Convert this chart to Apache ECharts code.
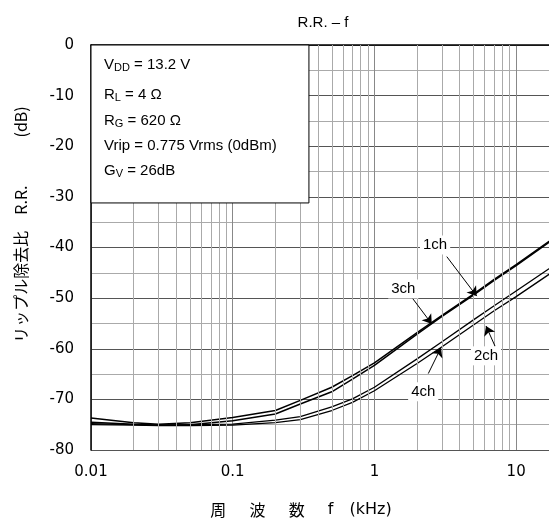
<!DOCTYPE html>
<html><head><meta charset="utf-8">
<script src="https://cdn.jsdelivr.net/npm/echarts@6/dist/echarts.min.js"></script>
<style>html,body{margin:0;padding:0;background:#fff}#c{width:549px;height:526px}</style>
</head><body><div id="c"></div>
<script>
// frequencies in kHz
const freqs = [0.01, 0.02, 0.03, 0.05, 0.1, 0.2, 0.3, 0.5, 0.7, 1, 2, 3, 5, 7, 10, 20];
// ripple rejection (dB)
const ch1 = [-73.7, -74.6, -74.9, -74.6, -73.6, -72.2, -70.2, -67.6, -65.3, -62.8, -56.8, -53.4, -49.2, -46.3, -43.4, -37.4];
const ch3 = [-74.5, -74.9, -75.1, -75.0, -74.2, -72.9, -70.9, -68.5, -66.0, -63.3, -57.1, -53.6, -49.4, -46.5, -43.6, -37.6];
const ch4 = [-74.8, -75.0, -75.1, -75.0, -74.9, -74.1, -73.4, -71.5, -69.9, -67.6, -62.0, -58.6, -54.3, -51.5, -48.6, -42.9];
const ch2 = [-75.0, -75.1, -75.2, -75.2, -75.1, -74.6, -74.0, -72.2, -70.6, -68.3, -62.9, -59.6, -55.3, -52.5, -49.7, -44.0];
const xTickLabels = ['0.01', '0.1', '1', '10'];
const xMin = 0.01, xMax = 17.06;
const yMin = -80, yMax = 0, yStep = 10;
const minorFreqs = [0.02,0.03,0.04,0.05,0.06,0.07,0.08,0.09,0.2,0.3,0.4,0.5,0.6,0.7,0.8,0.9,2,3,4,5,6,7,8,9];
// annotations
const annNames = ['1ch', '3ch', '2ch', '4ch'];
const annLabelAt = [[2.68, -39.5], [1.60, -48.2], [6.13, -61.4], [2.21, -68.5]];
const annFrom = [[3.24, -41.8], [1.83, -49.8], [7.10, -59.5], [2.40, -64.9]];
const annTo = [[5.27, -49.6], [2.54, -55.1], [6.13, -55.5], [2.95, -59.8]];
const condLines = [
  'V{s|DD} = 13.2 V',
  'R{s|L} = 4 Ω',
  'R{s|G} = 620 Ω',
  'Vrip = 0.775 Vrms (0dBm)',
  'G{s|V} = 26dB'
];

const chart = echarts.init(document.getElementById('c'));
const pair = arr => freqs.map((f, i) => [f, arr[i]]);
const lineSeries = (name, arr, w) => ({
  name, type: 'line', data: pair(arr), showSymbol: false, symbol: 'none', clip: true,
  lineStyle: { color: '#000', width: w }, z: 4, silent: true, animation: false
});

chart.setOption({
  animation: false,
  title: {
    text: 'R.R. – f', left: 318, top: 10, textAlign: 'center',
    textStyle: { fontFamily: 'Liberation Sans', fontSize: 15, fontWeight: 'normal', color: '#000' }
  },
  grid: { left: 91, top: 45, bottom: 76, right: 0 },
  xAxis: {
    type: 'log', logBase: 10, min: xMin, max: xMax,
    name: '{a|周　  波　  数　  }{b|f　}{b|(kHz)}', nameLocation: 'middle', nameGap: 52,
    nameTextStyle: {
      fontFamily: 'Noto Sans CJK JP', fontSize: 16, color: '#000', padding: [0, 38, 0, 0],
      rich: {
        a: { fontFamily: 'Noto Sans CJK JP', fontSize: 16 },
        b: { fontFamily: 'DejaVu Sans', fontSize: 16 }
      }
    },
    axisLine: { show: true, lineStyle: { color: '#000', width: 1.5 } },
    axisTick: { show: false },
    axisLabel: {
      color: '#000', fontFamily: 'DejaVu Sans', fontSize: 15, margin: 15, showMaxLabel: false,
      formatter: v => {
        const e = Math.round(Math.log10(v));
        return Math.abs(Math.log10(v) - e) < 1e-6 && e >= -2 && e <= 1 ? xTickLabels[e + 2] : '';
      }
    },
    splitLine: { show: true, lineStyle: { color: '#888', width: 1 } }
  },
  yAxis: {
    type: 'value', min: yMin, max: yMax, interval: yStep,
    name: 'リップル除去比　R.R.　　　(dB)', nameLocation: 'middle', nameGap: 62,
    nameTextStyle: { fontFamily: 'Noto Sans CJK JP', fontSize: 16, color: '#000', padding: [0, 0, 0, 46] },
    axisLine: { show: true, lineStyle: { color: '#000', width: 1.5 } },
    axisTick: { show: false },
    axisLabel: { color: '#000', fontFamily: 'DejaVu Sans', fontSize: 15, margin: 17 },
    splitLine: { show: true, lineStyle: { color: '#555', width: 1 } },
    minorTick: { show: false, splitNumber: 2 },
    minorSplitLine: { show: true, lineStyle: { color: '#aaa', width: 1 } }
  },
  series: [
    {
      type: 'line', data: [], silent: true, z: 1,
      markLine: {
        silent: true, symbol: 'none', animation: false,
        label: { show: false },
        lineStyle: { color: '#aaa', width: 1, type: 'solid' },
        data: minorFreqs.map(f => ({ xAxis: f }))
      }
    },
    lineSeries('1ch', ch1, 1.5),
    lineSeries('3ch', ch3, 1.5),
    lineSeries('4ch', ch4, 1.3),
    lineSeries('2ch', ch2, 1.3),
    {
      type: 'line', data: [], silent: true, z: 6,
      markLine: {
        silent: true, animation: false, symbol: ['none', 'arrow'], symbolSize: 9,
        label: { show: false },
        lineStyle: { color: '#000', width: 1, type: 'solid' },
        data: annNames.map((n, i) => [{ coord: annFrom[i] }, { coord: annTo[i] }])
      },
      markPoint: {
        silent: true, animation: false, symbol: 'rect', symbolSize: 0,
        label: {
          show: true, position: 'inside', color: '#000', fontFamily: 'Liberation Sans', fontSize: 15,
          backgroundColor: '#fff', padding: [2, 3]
        },
        data: annNames.map((n, i) => ({ coord: annLabelAt[i], value: n, label: { formatter: n } }))
      }
    }
  ]
});

// condition box anchored to data coordinates
const p0 = chart.convertToPixel({ gridIndex: 0 }, [xMin, 0]);
const p1 = chart.convertToPixel({ gridIndex: 0 }, [0.345, -31.2]);
const lineTops = [12, 42, 68, 93, 118];
chart.setOption({
  graphic: [
    {
      type: 'rect', z: 10,
      shape: { x: p0[0], y: p0[1], width: p1[0] - p0[0], height: p1[1] - p0[1] },
      style: { fill: '#fff', stroke: '#000', lineWidth: 1 }
    },
    ...condLines.map((t, i) => ({
      type: 'text', z: 11, left: p0[0] + 13, top: p0[1] + lineTops[i],
      style: {
        text: t, fill: '#000', fontFamily: 'Liberation Sans', fontSize: 15,
        rich: { s: { fontFamily: 'Liberation Sans', fontSize: 11, verticalAlign: 'bottom', padding: [7, 0, 0, 0] } }
      }
    }))
  ]
});
</script></body></html>
